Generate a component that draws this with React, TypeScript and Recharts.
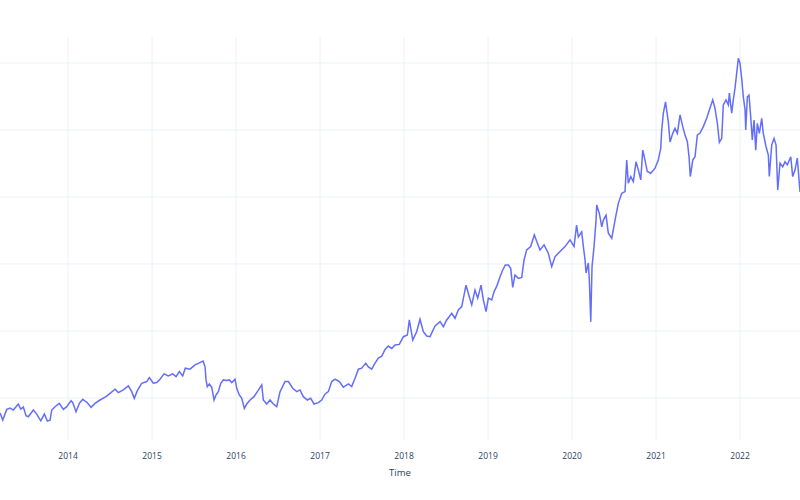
import React from "react";
import { LineChart, Line, XAxis, YAxis, CartesianGrid } from "recharts";

// time in decimal years (the y scale has no labels)
const times = [
  2013.19, 2013.223, 2013.27, 2013.31, 2013.349, 2013.408, 2013.437, 2013.468, 2013.5, 2013.527,
  2013.587, 2013.627, 2013.675, 2013.718, 2013.754, 2013.786, 2013.806, 2013.845, 2013.896, 2013.944,
  2013.985, 2014.036, 2014.056, 2014.095, 2014.135, 2014.175, 2014.23, 2014.274, 2014.321, 2014.381,
  2014.452, 2014.5, 2014.56, 2014.599, 2014.658, 2014.718, 2014.758, 2014.789, 2014.825, 2014.877,
  2014.937, 2014.968, 2015.015, 2015.056, 2015.095, 2015.143, 2015.194, 2015.246, 2015.286, 2015.325,
  2015.365, 2015.396, 2015.452, 2015.512, 2015.563, 2015.607, 2015.631, 2015.643, 2015.658, 2015.682,
  2015.711, 2015.738, 2015.762, 2015.789, 2015.818, 2015.849, 2015.889, 2015.92, 2015.949, 2015.988,
  2016.008, 2016.039, 2016.068, 2016.099, 2016.127, 2016.167, 2016.214, 2016.254, 2016.306, 2016.325,
  2016.365, 2016.405, 2016.444, 2016.484, 2016.524, 2016.583, 2016.623, 2016.675, 2016.723, 2016.762,
  2016.801, 2016.849, 2016.889, 2016.929, 2016.98, 2017.02, 2017.06, 2017.099, 2017.139, 2017.179,
  2017.23, 2017.277, 2017.337, 2017.377, 2017.417, 2017.456, 2017.496, 2017.544, 2017.575, 2017.615,
  2017.655, 2017.694, 2017.735, 2017.774, 2017.813, 2017.854, 2017.893, 2017.944, 2017.992, 2018.04,
  2018.063, 2018.104, 2018.151, 2018.19, 2018.23, 2018.27, 2018.31, 2018.369, 2018.429, 2018.468,
  2018.508, 2018.568, 2018.607, 2018.646, 2018.687, 2018.738, 2018.777, 2018.806, 2018.845, 2018.877,
  2018.917, 2018.944, 2018.976, 2019.004, 2019.044, 2019.071, 2019.104, 2019.143, 2019.175, 2019.206,
  2019.242, 2019.27, 2019.294, 2019.321, 2019.361, 2019.401, 2019.429, 2019.46, 2019.508, 2019.551,
  2019.58, 2019.619, 2019.667, 2019.718, 2019.758, 2019.798, 2019.857, 2019.917, 2019.976, 2020.024,
  2020.054, 2020.075, 2020.115, 2020.135, 2020.155, 2020.167, 2020.194, 2020.206, 2020.223, 2020.238,
  2020.262, 2020.286, 2020.294, 2020.325, 2020.354, 2020.373, 2020.405, 2020.432, 2020.473, 2020.512,
  2020.551, 2020.592, 2020.631, 2020.651, 2020.67, 2020.699, 2020.73, 2020.762, 2020.789, 2020.818,
  2020.842, 2020.869, 2020.896, 2020.937, 2020.988, 2021.027, 2021.056, 2021.068, 2021.087, 2021.113,
  2021.146, 2021.167, 2021.199, 2021.226, 2021.254, 2021.286, 2021.318, 2021.345, 2021.373, 2021.393,
  2021.408, 2021.437, 2021.464, 2021.492, 2021.524, 2021.563, 2021.604, 2021.635, 2021.675, 2021.702,
  2021.73, 2021.754, 2021.782, 2021.801, 2021.833, 2021.861, 2021.873, 2021.901, 2021.92, 2021.94,
  2021.96, 2021.98, 2022.0, 2022.02, 2022.039, 2022.06, 2022.068, 2022.087, 2022.107, 2022.127,
  2022.146, 2022.167, 2022.187, 2022.206, 2022.23, 2022.258, 2022.277, 2022.31, 2022.337, 2022.349,
  2022.377, 2022.405, 2022.429, 2022.449, 2022.476, 2022.508, 2022.536, 2022.563, 2022.604, 2022.627,
  2022.655, 2022.682, 2022.706, 2022.714,
];

const values = [
  35.5, 33.4, 36.6, 37.0, 36.4, 38.2, 36.7, 37.3, 34.7, 34.4,
  36.4, 35.2, 33.2, 35.2, 33.1, 33.4, 36.4, 37.4, 38.4, 36.6,
  37.4, 39.2, 38.6, 35.9, 38.4, 39.6, 38.6, 37.2, 38.4, 39.4,
  40.4, 41.4, 42.6, 41.6, 42.4, 43.6, 41.9, 39.9, 42.2, 44.4,
  44.9, 46.1, 44.4, 44.6, 45.6, 47.2, 46.6, 47.2, 46.4, 47.9,
  46.6, 48.9, 48.6, 49.9, 50.5, 51.0, 49.3, 45.4, 43.4, 44.2,
  43.2, 39.4, 40.9, 41.9, 44.4, 45.4, 45.2, 45.4, 44.6, 45.6,
  42.9, 40.9, 39.9, 36.9, 38.2, 39.4, 40.4, 41.9, 43.9, 39.4,
  38.2, 39.4, 38.2, 37.4, 41.9, 44.9, 44.9, 42.9, 41.9, 42.4,
  40.4, 39.4, 39.9, 38.2, 38.6, 39.4, 41.2, 41.9, 44.9, 45.6,
  44.9, 43.2, 44.2, 43.4, 45.9, 48.6, 48.9, 50.4, 49.3, 48.6,
  50.4, 51.9, 52.5, 54.5, 55.5, 54.8, 55.8, 56.0, 58.3, 58.8,
  63.3, 57.3, 59.8, 63.5, 59.8, 58.5, 58.3, 61.5, 62.8, 61.3,
  63.3, 65.3, 63.8, 66.3, 67.3, 73.7, 70.2, 67.8, 72.2, 69.8,
  73.7, 69.3, 65.8, 69.8, 69.3, 71.7, 73.4, 76.2, 78.2, 79.7,
  79.7, 78.7, 73.0, 76.7, 75.7, 76.0, 81.2, 84.2, 85.2, 88.7,
  86.7, 84.2, 85.7, 83.2, 79.2, 82.2, 83.7, 85.2, 87.2, 85.2,
  91.6, 88.1, 89.6, 85.2, 81.2, 77.3, 80.3, 75.2, 62.8, 79.2,
  85.2, 93.1, 97.6, 95.1, 91.1, 93.1, 94.6, 89.2, 87.7, 93.1,
  98.1, 101.1, 101.6, 111.0, 104.1, 106.1, 104.6, 110.5, 108.1, 105.1,
  114.0, 111.0, 107.6, 107.1, 108.6, 111.0, 114.5, 120.0, 125.0, 128.4,
  122.5, 116.4, 119.0, 120.5, 119.0, 124.5, 121.0, 118.5, 116.5, 112.0,
  106.1, 111.0, 112.0, 118.5, 119.1, 121.0, 123.6, 126.0, 129.0, 126.5,
  122.0, 116.3, 117.5, 127.5, 129.0, 127.5, 131.0, 125.0, 129.0, 132.4,
  136.9, 141.4, 139.9, 135.4, 129.9, 126.0, 120.0, 129.9, 130.4, 124.0,
  117.0, 123.0, 114.0, 122.0, 119.0, 123.5, 119.0, 115.0, 112.5, 106.1,
  115.5, 117.5, 115.5, 102.1, 110.1, 109.0, 110.5, 109.6, 112.0, 106.1,
  108.1, 111.6, 104.1, 101.5,
];

const yearTicks = [2014, 2015, 2016, 2017, 2018, 2019, 2020, 2021, 2022];
const valueTicks = [40, 60, 80, 100, 120, 140];

const data = times.map((t, i) => ({ t, value: values[i] }));

const font = '"Open Sans", verdana, arial, sans-serif';

// grid lines only at the tick values, placed through the axis scales
const applyScale = (scale: any, v: number) =>
  typeof scale === "function" ? scale(v) : scale?.map ? scale.map(v) : undefined;

const gridX = ({ xAxis }: any) =>
  yearTicks.map((v) => applyScale(xAxis?.scale, v)).filter((p) => typeof p === "number");
const gridY = ({ yAxis }: any) =>
  valueTicks.map((v) => applyScale(yAxis?.scale, v)).filter((p) => typeof p === "number");

export default function App() {
  return (
    <div style={{ position: "absolute", left: 0, top: 0, width: 800, height: 500, background: "#fff" }}>
      <LineChart width={800} height={500} data={data} margin={{ top: 37, right: 0, bottom: 0, left: 0 }}>
        <CartesianGrid
          stroke="#ebf0f8"
          strokeWidth={1}
          verticalCoordinatesGenerator={gridX}
          horizontalCoordinatesGenerator={gridY}
        />
        <XAxis
          dataKey="t"
          type="number"
          domain={[2013.19, 2022.714]}
          allowDataOverflow
          ticks={yearTicks}
          tickFormatter={(v: number) => String(v)}
          axisLine={false}
          tickLine={false}
          tickMargin={7}
          height={60}
          tick={{ fontSize: 8.5, fill: "#2a3f5f", fontFamily: font }}
          label={{ value: "Time", position: "insideBottom", offset: 24, fontSize: 9.5, fill: "#2a3f5f", fontFamily: font }}
        />
        <YAxis hide type="number" domain={[27.46, 147.76]} allowDataOverflow ticks={valueTicks} />
        <Line
          type="linear"
          dataKey="value"
          stroke="#636efa"
          strokeWidth={1.5}
          dot={false}
          isAnimationActive={false}
        />
      </LineChart>
    </div>
  );
}
